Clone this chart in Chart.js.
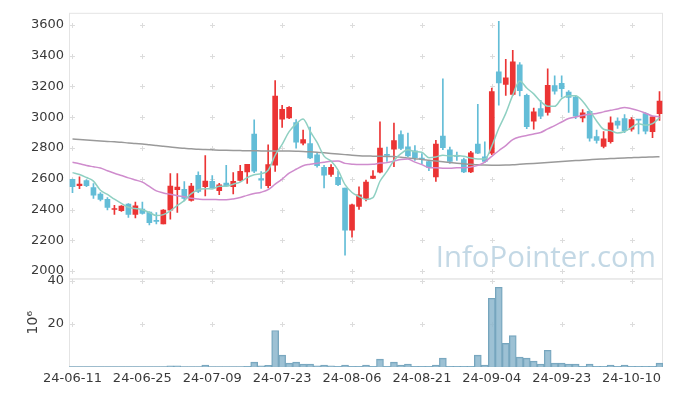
<!DOCTYPE html>
<html>
<head>
<meta charset="utf-8">
<script src="https://cdn.jsdelivr.net/npm/chart.js@4.4.0/dist/chart.umd.min.js"></script>
<style>
  html, body { margin: 0; padding: 0; background: #fff; }
  #wrap { width: 673px; height: 396px; }
</style>
</head>
<body>
<div id="wrap"><canvas id="chart" width="673" height="396"></canvas></div>
<script>
// trading days, 24-06-11 .. 24-10-16
const dates = [
  '24-06-11','24-06-12','24-06-13','24-06-14','24-06-17','24-06-18','24-06-19','24-06-20','24-06-21','24-06-24',
  '24-06-25','24-06-26','24-06-27','24-06-28','24-07-01','24-07-02','24-07-03','24-07-04','24-07-05','24-07-08',
  '24-07-09','24-07-10','24-07-11','24-07-12','24-07-15','24-07-16','24-07-17','24-07-18','24-07-19','24-07-22',
  '24-07-23','24-07-24','24-07-25','24-07-26','24-07-29','24-07-30','24-07-31','24-08-01','24-08-02','24-08-05',
  '24-08-06','24-08-07','24-08-08','24-08-09','24-08-12','24-08-13','24-08-14','24-08-16','24-08-19','24-08-20',
  '24-08-21','24-08-22','24-08-23','24-08-26','24-08-27','24-08-28','24-08-29','24-08-30','24-09-02','24-09-03',
  '24-09-04','24-09-05','24-09-06','24-09-09','24-09-10','24-09-11','24-09-12','24-09-13','24-09-19','24-09-20',
  '24-09-23','24-09-24','24-09-25','24-09-26','24-09-27','24-09-30','24-10-02','24-10-04','24-10-07','24-10-08',
  '24-10-10','24-10-11','24-10-14','24-10-15','24-10-16'
];

const opens = [
  2596,2555,2589,2542,2501,2467,2400,2392,2435,2368, 2403,2383,2330,2306,2396,2529,2531,2460,2623,2548,
  2583,2523,2572,2548,2589,2645,2891,2602,2555,2688, 2988,2996,2966,2831,2829,2756,2675,2628,2610,2540,
  2266,2420,2473,2602,2643,2756,2793,2887,2808,2782, 2735,2711,2612,2878,2788,2752,2724,2645,2825,2743,
  2767,3296,3213,3148,3341,3142,2975,3056,3031,3206, 3221,3163,3131,2996,3039,2874,2810,2842,2975,2992,
  2923,2987,3024,2906,3024
];
const highs = [
  2598,2613,2595,2568,2510,2478,2428,2425,2439,2448, 2448,2385,2381,2400,2634,2634,2581,2570,2645,2750,
  2621,2570,2688,2640,2688,2694,2983,2647,2820,3238, 3077,3069,2985,2917,2936,2767,2688,2692,2649,2540,
  2435,2548,2591,2653,2970,2806,2962,2912,2897,2816, 2763,2720,2850,3249,2806,2773,2735,2778,3084,2840,
  3189,3624,3377,3435,3356,3150,3060,3110,3314,3270, 3270,3174,3140,3050,3045,2917,2906,3003,2996,3018,
  2998,2987,3030,3005,3167
];
const lows = [
  2510,2536,2548,2473,2456,2398,2368,2388,2349,2345, 2370,2300,2306,2306,2338,2381,2456,2455,2510,2488,
  2537,2497,2548,2501,2585,2570,2640,2538,2540,2647, 2934,2990,2799,2820,2730,2675,2540,2615,2555,2103,
  2221,2400,2456,2600,2638,2713,2679,2790,2743,2720, 2696,2653,2582,2790,2700,2720,2640,2640,2763,2705,
  2756,3078,3142,3142,3138,2925,2923,2990,3013,3150, 3131,3031,2990,2970,2845,2831,2800,2831,2927,2900,
  2910,2891,2891,2868,2980
];
const closes = [
  2548,2566,2555,2493,2465,2413,2407,2422,2368,2424, 2375,2315,2323,2396,2553,2546,2473,2553,2518,2585,
  2542,2561,2555,2583,2649,2694,2649,2591,2692,3137, 3052,3065,2838,2855,2735,2685,2623,2675,2561,2266,
  2430,2495,2578,2617,2799,2752,2848,2797,2748,2737, 2728,2673,2825,2803,2713,2745,2645,2769,2767,2713,
  3167,3223,3257,3360,3172,2938,3035,3007,3207,3170, 3185,3129,3007,3028,2864,2850,2859,2964,2949,2913,
  2985,2981,2910,3002,3105
];

// volume, millions of shares
const volumes = [
  0.15,0.15,0.15,0.15,0.15,0.15,0.15,0.15,0.15,0.15, 0.15,0.15,0.15,0.15,0.5,0.5,0.15,0.15,0.15,0.9,
  0.15,0.15,0.15,0.15,0.15,0.3,2.3,0.5,0.8,17.0, 5.5,1.8,2.3,1.4,1.4,0.5,0.9,0.5,0.3,0.9,
  0.3,0.3,0.9,0.3,3.7,0.3,2.3,0.9,1.4,0.3, 0.3,0.3,0.9,4.1,0.3,0.3,0.3,0.3,5.5,0.9,
  32.0,37.1,11.0,14.6,4.6,4.1,2.7,1.4,7.8,1.8, 1.8,1.4,1.4,0.3,1.4,0.3,0.3,0.9,0.3,0.9,
  0.3,0.3,0.3,0.3,1.8
];

// moving averages as drawn
const maShort = [
  2640,2628,2608,2585,2525,2498,2467,2440,2415,2407, 2399,2381,2361,2367,2392,2427,2458,2504,2529,2535,
  2534,2552,2552,2565,2578,2608,2626,2633,2655,2753, 2824,2907,2957,2989,2909,2836,2747,2715,2656,2562,
  2511,2485,2466,2477,2584,2648,2719,2763,2789,2776, 2772,2737,2742,2753,2748,2752,2746,2735,2728,2728,
  2812,2928,3025,3144,3236,3190,3152,3102,3072,3071, 3121,3140,3140,3104,3043,2976,2922,2913,2897,2907,
  2934,2958,2948,2958,2997
];
const maMid = [
  2707,2697,2686,2678,2670,2652,2636,2621,2606,2592, 2578,2550,2521,2508,2499,2490,2483,2473,2468,2465,
  2465,2464,2464,2469,2478,2492,2504,2513,2529,2565, 2598,2636,2662,2685,2694,2701,2708,2714,2716,2700,
  2695,2692,2693,2694,2702,2705,2715,2725,2728,2708, 2692,2672,2671,2669,2668,2671,2672,2677,2687,2709,
  2746,2782,2816,2854,2872,2881,2891,2901,2924,2946, 2969,2992,3001,3012,3019,3025,3035,3045,3054,3064,
  3055,3043,3026,3008,3004
];
const maLong = [
  2858,2855,2852,2849,2846,2843,2840,2837,2833,2830, 2826,2821,2816,2811,2806,2802,2798,2795,2792,2790,
  2788,2786,2785,2784,2783,2782,2782,2781,2781,2781, 2781,2780,2779,2778,2776,2773,2769,2765,2761,2757,
  2753,2750,2748,2747,2746,2745,2744,2740,2735,2730, 2726,2721,2716,2711,2706,2701,2697,2694,2691,2689,
  2688,2688,2689,2691,2694,2697,2700,2703,2706,2709, 2712,2715,2718,2721,2724,2727,2729,2731,2733,2735,
  2737,2739,2740,2742,2743
];

const priceTicks = [2000, 2200, 2400, 2600, 2800, 3000, 3200, 3400, 3600];
const volumeTicks = [20, 40];
const labelEvery = 10;

const RED = '#eb3434';
const BLUE = '#63bdd7';
const GRID = '#dcdcdc';
const FRAME = '#e4e4e4';
const TEXT = '#3a3a3a';
const WATERMARK = 'InfoPointer.com';

const candleColors = closes.map((c, i) => c >= opens[i] ? RED : BLUE);
const bodies = opens.map((o, i) => [o, closes[i]]);
const wicks = lows.map((l, i) => [l, highs[i]]);

const panelPlugin = {
  id: 'panels',
  beforeDatasetsDraw(chart) {
    const { ctx, chartArea } = chart;
    const x = chart.scales.x, y = chart.scales.y, yv = chart.scales.yv;
    ctx.save();

    // watermark
    ctx.font = '400 33px "Open Sans"';
    const w = ctx.measureText(WATERMARK).width;
    ctx.font = '400 ' + (33 * 220 / w).toFixed(1) + 'px "Open Sans"';
    ctx.fillStyle = 'rgba(170,200,218,0.7)';
    ctx.textAlign = 'right';
    ctx.textBaseline = 'alphabetic';
    ctx.fillText(WATERMARK, chartArea.right - 7, y.bottom - 11);

    // panel frames
    ctx.strokeStyle = FRAME;
    ctx.lineWidth = 1;
    ctx.strokeRect(chartArea.left + 0.5, y.top + 0.5, chartArea.right - chartArea.left - 1, y.bottom - y.top);
    ctx.strokeRect(chartArea.left + 0.5, yv.top + 0.5, chartArea.right - chartArea.left - 1, yv.bottom - yv.top - 1);

    // small crosses where grid lines would meet
    ctx.strokeStyle = GRID;
    const cross = (px, py) => {
      px = Math.round(px) + 0.5; py = Math.round(py) + 0.5;
      ctx.beginPath();
      ctx.moveTo(px - 2.5, py); ctx.lineTo(px + 2.5, py);
      ctx.moveTo(px, py - 2.5); ctx.lineTo(px, py + 2.5);
      ctx.stroke();
    };
    for (let i = 0; i < dates.length; i += labelEvery) {
      const px = x.getPixelForValue(i);
      priceTicks.forEach(v => cross(px, y.getPixelForValue(v)));
      volumeTicks.forEach(v => cross(px, yv.getPixelForValue(v)));
    }
    ctx.restore();
  }
};

const tickFont = { family: '"DejaVu Sans"', size: 13 };

new Chart(document.getElementById('chart'), {
  type: 'bar',
  data: {
    labels: dates,
    datasets: [
      { type: 'line', data: maShort, yAxisID: 'y', borderColor: '#8fd0c2', borderWidth: 1.5,
        pointRadius: 0, cubicInterpolationMode: 'monotone', order: 0 },
      { type: 'line', data: maMid, yAxisID: 'y', borderColor: '#cf8ccd', borderWidth: 1.5,
        pointRadius: 0, cubicInterpolationMode: 'monotone', order: 0 },
      { type: 'line', data: maLong, yAxisID: 'y', borderColor: '#9a9a9a', borderWidth: 1.5,
        pointRadius: 0, cubicInterpolationMode: 'monotone', order: 0 },
      { data: bodies, yAxisID: 'y', backgroundColor: candleColors, barThickness: 5,
        minBarLength: 1, grouped: false, order: 1 },
      { data: wicks, yAxisID: 'y', backgroundColor: candleColors, barThickness: 1,
        grouped: false, order: 2 },
      { data: volumes, yAxisID: 'yv', backgroundColor: 'rgba(140,182,205,0.85)', borderColor: '#76a5bd',
        borderWidth: 1, categoryPercentage: 1, barPercentage: 1, grouped: false, order: 3 }
    ]
  },
  options: {
    responsive: false,
    animation: false,
    devicePixelRatio: 1,
    layout: { padding: { top: 10, right: 10, left: 0, bottom: 0 } },
    plugins: { legend: { display: false }, tooltip: { enabled: false } },
    scales: {
      x: {
        type: 'category',
        offset: true,
        grid: { display: false, drawTicks: false },
        border: { display: false },
        afterFit: s => { s.height = 29; },
        ticks: {
          autoSkip: false, maxRotation: 0, minRotation: 0, padding: 4, color: TEXT, font: tickFont,
          callback: function (v, i) { return i % labelEvery === 0 ? this.getLabelForValue(v) : ''; }
        }
      },
      yv: {
        position: 'left', stack: 'panel', stackWeight: 1,
        min: 0, max: 41.2,
        grid: { display: false, drawTicks: false },
        border: { display: false },
        afterBuildTicks: s => { s.ticks = volumeTicks.map(v => ({ value: v })); },
        afterFit: s => { s.width = 69; },
        ticks: { autoSkip: false, padding: 5, color: TEXT, font: tickFont, callback: v => String(v) },
        title: { display: true, text: '10\u2076', color: TEXT, font: { family: '"DejaVu Sans"', size: 14 },
                 padding: { top: 25, bottom: 0 } }
      },
      y: {
        position: 'left', stack: 'panel', stackWeight: 3,
        min: 1952, max: 3679,
        grid: { display: false, drawTicks: false },
        border: { display: false },
        afterBuildTicks: s => { s.ticks = priceTicks.map(v => ({ value: v })); },
        afterFit: s => { s.width = 69; },
        ticks: { autoSkip: false, padding: 5, color: TEXT, font: tickFont, callback: v => String(v) }
      }
    }
  },
  plugins: [panelPlugin]
});
</script>
</body>
</html>
